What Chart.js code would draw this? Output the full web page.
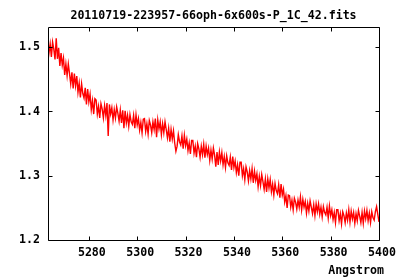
<!DOCTYPE html>
<html>
<head>
<meta charset="utf-8">
<script src="https://cdn.jsdelivr.net/npm/chart.js@4/dist/chart.umd.min.js"></script>
<style>
  html, body { margin: 0; padding: 0; background: #fff; }
  canvas { display: block; }
</style>
</head>
<body>
<canvas id="spec" width="400" height="280"></canvas>
<script>
// ----------------------------
// spectrum data
// ----------------------------

const titleText = "20110719-223957-66oph-6x600s-P_1C_42.fits";
const xLabel = "Angstrom";

const xTicks = [5280, 5300, 5320, 5340, 5360, 5380, 5400];
const yTicks = [1.2, 1.3, 1.4, 1.5];

const wavelength = [
  5263,5263.5,5264,5264.5,5265,5265.5,5266,5266.5,5267,5267.5,
  5268,5268.5,5269,5269.5,5270,5270.5,5271,5271.5,5272,5272.5,
  5273,5273.5,5274,5274.5,5275,5275.5,5276,5276.5,5277,5277.5,
  5278,5278.5,5279,5279.5,5280,5280.5,5281,5281.5,5282,5282.5,
  5283,5283.5,5284,5284.5,5285,5285.5,5286,5286.5,5287,5287.5,
  5288,5288.5,5289,5289.5,5290,5290.5,5291,5291.5,5292,5292.5,
  5293,5293.5,5294,5294.5,5295,5295.5,5296,5296.5,5297,5297.5,
  5298,5298.5,5299,5299.5,5300,5300.5,5301,5301.5,5302,5302.5,
  5303,5303.5,5304,5304.5,5305,5305.5,5306,5306.5,5307,5307.5,
  5308,5308.5,5309,5309.5,5310,5310.5,5311,5311.5,5312,5312.5,
  5313,5313.5,5314,5314.5,5315,5315.5,5316,5316.5,5317,5317.5,
  5318,5318.5,5319,5319.5,5320,5320.5,5321,5321.5,5322,5322.5,
  5323,5323.5,5324,5324.5,5325,5325.5,5326,5326.5,5327,5327.5,
  5328,5328.5,5329,5329.5,5330,5330.5,5331,5331.5,5332,5332.5,
  5333,5333.5,5334,5334.5,5335,5335.5,5336,5336.5,5337,5337.5,
  5338,5338.5,5339,5339.5,5340,5340.5,5341,5341.5,5342,5342.5,
  5343,5343.5,5344,5344.5,5345,5345.5,5346,5346.5,5347,5347.5,
  5348,5348.5,5349,5349.5,5350,5350.5,5351,5351.5,5352,5352.5,
  5353,5353.5,5354,5354.5,5355,5355.5,5356,5356.5,5357,5357.5,
  5358,5358.5,5359,5359.5,5360,5360.5,5361,5361.5,5362,5362.5,
  5363,5363.5,5364,5364.5,5365,5365.5,5366,5366.5,5367,5367.5,
  5368,5368.5,5369,5369.5,5370,5370.5,5371,5371.5,5372,5372.5,
  5373,5373.5,5374,5374.5,5375,5375.5,5376,5376.5,5377,5377.5,
  5378,5378.5,5379,5379.5,5380,5380.5,5381,5381.5,5382,5382.5,
  5383,5383.5,5384,5384.5,5385,5385.5,5386,5386.5,5387,5387.5,
  5388,5388.5,5389,5389.5,5390,5390.5,5391,5391.5,5392,5392.5,
  5393,5393.5,5394,5394.5,5395,5395.5,5396,5396.5,5397,5397.5,
  5398,5398.5,5399,5399.5,5400
];

const flux = [
  1.515,1.491,1.505,1.485,1.508,1.497,1.481,1.514,1.482,1.499,
  1.471,1.491,1.472,1.483,1.457,1.474,1.456,1.474,1.459,1.443,
  1.461,1.436,1.459,1.440,1.455,1.430,1.444,1.422,1.443,1.428,
  1.421,1.437,1.411,1.435,1.415,1.427,1.403,1.417,1.396,1.420,
  1.418,1.396,1.408,1.390,1.412,1.404,1.390,1.409,1.394,1.413,
  1.362,1.411,1.396,1.406,1.387,1.403,1.390,1.407,1.397,1.385,
  1.402,1.382,1.402,1.374,1.401,1.382,1.394,1.377,1.395,1.384,
  1.380,1.394,1.374,1.395,1.379,1.389,1.371,1.383,1.367,1.388,
  1.389,1.369,1.381,1.365,1.386,1.379,1.367,1.384,1.372,1.389,
  1.360,1.387,1.373,1.384,1.364,1.381,1.367,1.384,1.372,1.359,
  1.374,1.353,1.372,1.357,1.370,1.351,1.338,1.346,1.364,1.353,
  1.348,1.362,1.342,1.363,1.347,1.357,1.339,1.351,1.334,1.355,
  1.355,1.335,1.346,1.329,1.350,1.342,1.329,1.346,1.333,1.349,
  1.328,1.346,1.333,1.343,1.324,1.340,1.326,1.343,1.332,1.314,
  1.337,1.317,1.337,1.323,1.336,1.317,1.330,1.313,1.331,1.320,
  1.316,1.329,1.309,1.330,1.313,1.323,1.305,1.317,1.300,1.321,
  1.321,1.300,1.311,1.294,1.314,1.306,1.292,1.308,1.295,1.311,
  1.289,1.307,1.293,1.303,1.283,1.299,1.285,1.302,1.291,1.279,
  1.295,1.275,1.295,1.281,1.294,1.275,1.287,1.270,1.288,1.277,
  1.272,1.286,1.266,1.287,1.270,1.279,1.259,1.269,1.250,1.270,
  1.269,1.251,1.262,1.247,1.265,1.259,1.248,1.262,1.251,1.267,
  1.247,1.263,1.251,1.260,1.242,1.257,1.245,1.261,1.251,1.241,
  1.255,1.238,1.256,1.244,1.256,1.240,1.251,1.236,1.252,1.243,
  1.239,1.251,1.234,1.253,1.238,1.247,1.232,1.243,1.227,1.247,
  1.247,1.230,1.241,1.225,1.244,1.238,1.227,1.242,1.231,1.247,
  1.228,1.245,1.233,1.243,1.226,1.241,1.230,1.246,1.237,1.227,
  1.243,1.226,1.245,1.233,1.246,1.230,1.242,1.227,1.244,1.235,
  1.231,1.244,1.252,1.240,1.228
];

// axis ranges as plotted
const xMin = 5263.1, xMax = 5400;
const yMin = 1.2, yMax = 1.5315;

// ----------------------------
// styling
// ----------------------------

const FONT = "'DejaVu Sans Mono', 'Liberation Mono', monospace";
const BOLD = "bold 11.6px " + FONT;
Chart.defaults.color = "#000";
Chart.defaults.font.family = FONT;

// gnuplot-style frame with inward ticks on all four sides, title and x label
const frame = {
  id: "frame",
  afterDraw(chart) {
    const { ctx, chartArea: a, scales: { x, y } } = chart;
    const L = Math.round(a.left) + 0.5, R = Math.round(a.right) + 0.5;
    const T = Math.round(a.top) + 0.5, B = Math.round(a.bottom) + 0.5;
    const len = 4;
    ctx.save();
    ctx.strokeStyle = "#000";
    ctx.lineWidth = 1;
    ctx.beginPath();
    ctx.rect(L, T, R - L, B - T);
    xTicks.forEach(v => {
      const px = Math.round(x.getPixelForValue(v)) + 0.5;
      ctx.moveTo(px, B); ctx.lineTo(px, B - len);
      ctx.moveTo(px, T); ctx.lineTo(px, T + len);
    });
    yTicks.forEach(v => {
      const py = Math.round(y.getPixelForValue(v)) + 0.5;
      ctx.moveTo(L, py); ctx.lineTo(L + len, py);
      ctx.moveTo(R, py); ctx.lineTo(R - len, py);
    });
    ctx.stroke();
    ctx.fillStyle = "#000";
    ctx.font = BOLD;
    ctx.textBaseline = "middle";
    ctx.textAlign = "center";
    ctx.fillText(titleText, 213.5, 16);
    ctx.textAlign = "right";
    ctx.fillText(xLabel, 384, 271);
    ctx.restore();
  }
};

// ----------------------------
// chart
// ----------------------------

new Chart(document.getElementById("spec"), {
  type: "line",
  data: {
    datasets: [{
      data: wavelength.map((w, i) => ({ x: w, y: flux[i] })),
      borderColor: "#ff0000",
      borderWidth: 1.4,
      pointRadius: 0,
      tension: 0,
      fill: false
    }]
  },
  options: {
    responsive: false,
    animation: false,
    layout: { padding: { left: 0, right: 21, top: 27, bottom: 0 } },
    plugins: {
      legend: { display: false },
      tooltip: { enabled: false },
      title: { display: false }
    },
    scales: {
      x: {
        type: "linear",
        min: xMin,
        max: xMax,
        afterFit(s) { s.height = 40; },
        afterBuildTicks(s) { s.ticks = xTicks.map(v => ({ value: v })); },
        grid: { display: false, drawTicks: false },
        border: { display: false },
        ticks: {
          padding: 6,
          labelOffset: 3,
          maxRotation: 0,
          autoSkip: false,
          font: { family: FONT, size: 11.6, weight: "bold", lineHeight: "14px" },
          callback: v => String(v)
        }
      },
      y: {
        type: "linear",
        min: yMin,
        max: yMax,
        afterFit(s) { s.width = 48; },
        afterBuildTicks(s) { s.ticks = yTicks.map(v => ({ value: v })); },
        grid: { display: false, drawTicks: false },
        border: { display: false },
        ticks: {
          padding: 8,
          autoSkip: false,
          font: { family: FONT, size: 11.6, weight: "bold", lineHeight: "14px" },
          callback: v => v.toFixed(1)
        }
      }
    }
  },
  plugins: [frame]
});
</script>
</body>
</html>
